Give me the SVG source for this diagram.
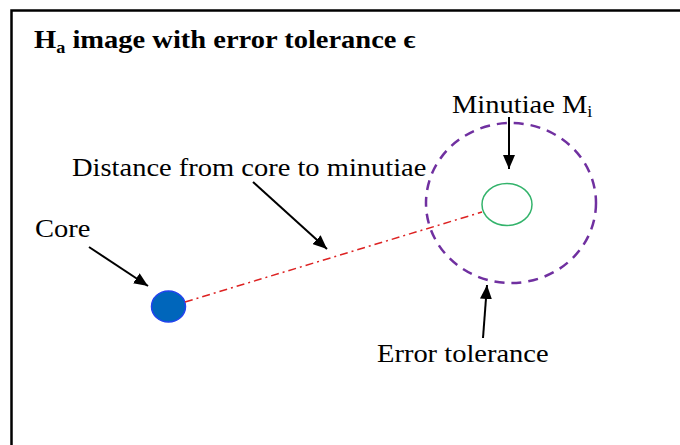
<svg xmlns="http://www.w3.org/2000/svg" width="680" height="445" viewBox="0 0 680 445">
<defs>
<marker id="ah" viewBox="0 0 14 12" refX="14" refY="6" markerWidth="14" markerHeight="12" markerUnits="userSpaceOnUse" orient="auto">
<path d="M0,0 L14,6 L0,12 z" fill="#000"/>
</marker>
<style>
.t{font-family:"Liberation Serif","Times New Roman",serif;font-size:25px;fill:#000}
.b{font-weight:bold}
.arr{stroke:#000;stroke-width:2;fill:none;marker-end:url(#ah)}
</style>
</defs>
<rect x="11.5" y="10.5" width="690" height="450" fill="#fff" stroke="#000" stroke-width="2.5"/>
<text class="t b" transform="translate(34,48) scale(1.14,1)">H<tspan font-size="16" dy="5">a</tspan><tspan dy="-5"> image with error tolerance ϵ</tspan></text>
<g id="tolerance">
<ellipse cx="511" cy="203" rx="85" ry="80" fill="none" stroke="#7030a0" stroke-width="2.5" stroke-dasharray="10,7"/>
</g>
<g id="minutiae">
<ellipse cx="507" cy="204.5" rx="25" ry="21" fill="none" stroke="#33b36b" stroke-width="1.5"/>
</g>
<g id="core">
<ellipse cx="168.5" cy="306.5" rx="17" ry="15.5" fill="#0066bb" stroke="#2244ee" stroke-width="1.5"/>
</g>
<g id="connectors">
<line x1="185" y1="302" x2="482" y2="212" stroke="#dd2222" stroke-width="1.5" stroke-dasharray="8,4,2,4"/>
<line class="arr" x1="509" y1="117" x2="509" y2="169"/>
<line class="arr" x1="253" y1="182" x2="327" y2="249"/>
<line class="arr" x1="89" y1="247" x2="148" y2="286"/>
<line class="arr" x1="483" y1="338" x2="487" y2="285"/>
</g>
<g id="labels">
<text class="t" transform="translate(452,113) scale(1.14,1)">Minutiae M<tspan font-size="16" dy="4">i</tspan></text>
<text class="t" transform="translate(72,176) scale(1.14,1)">Distance from core to minutiae</text>
<text class="t" transform="translate(35,237) scale(1.14,1)">Core</text>
<text class="t" transform="translate(377,362) scale(1.14,1)">Error tolerance</text>
</g>
</svg>
